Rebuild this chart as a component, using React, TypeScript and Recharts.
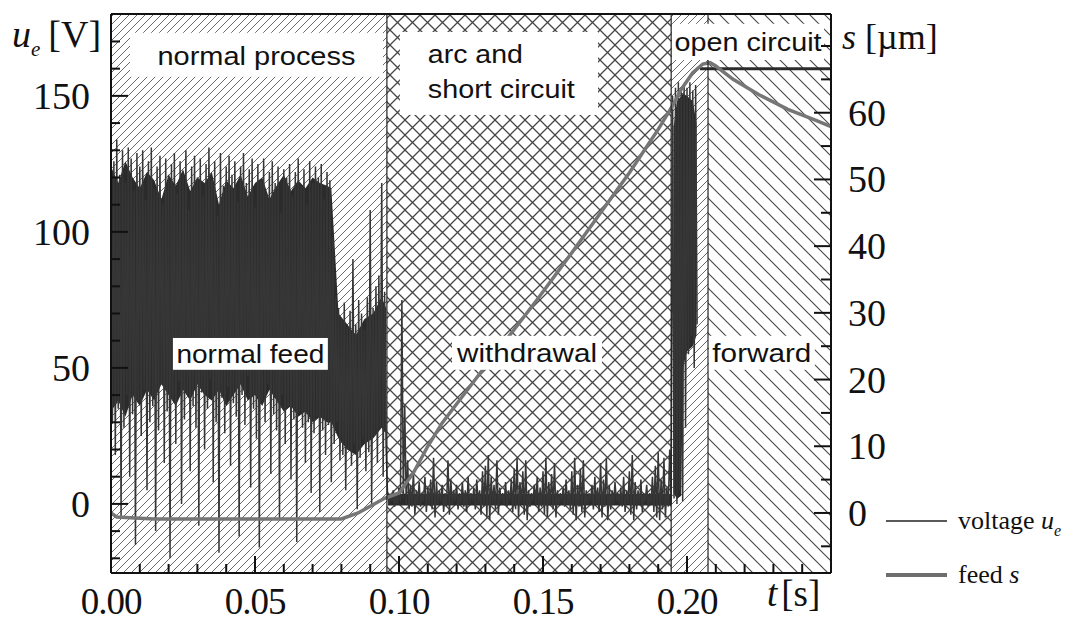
import React from "react";
import { ComposedChart, Area, Line, XAxis, YAxis, ReferenceArea, ReferenceLine, Legend } from "recharts";

// voltage u_e [V]: one peak and one valley per millisecond
const sampleStep = 0.001;

const normalStart = 0;
const normalHigh = [
  132, 126, 134, 121, 130, 118, 131, 127, 115, 129,
  124, 130, 112, 126, 131, 116, 124, 128, 110, 127,
  121, 125, 129, 114, 126, 122, 130, 108, 124, 128,
  120, 127, 113, 125, 131, 119, 126, 106, 129, 117,
  124, 128, 121, 126, 111, 124, 129, 118, 123, 127,
  109, 125, 119, 127, 114, 122, 126, 118, 124, 107,
  123, 120, 125, 113, 122, 127, 117, 123, 110, 126,
  118, 124, 120, 125, 112, 122, 119, 98, 76, 72,
  68, 74, 65, 71, 90, 66, 75, 70, 64, 76,
  108, 72, 80, 84, 118, 78,
];
const normalLow = [
  30, 18, 35, -5, 28, 40, 10, 33, -15, 38,
  25, 42, 5, 30, 36, -10, 27, 44, 15, 34,
  -20, 38, 22, 45, 0, 31, 40, 12, 36, 28,
  -8, 41, 20, 35, 46, 8, 30, -18, 39, 26,
  43, 14, 37, 32, -12, 40, 29, 47, 6, 35,
  24, -16, 38, 30, 44, 11, 33, 27, -6, 40,
  22, 36, 9, 31, -14, 34, 28, 15, 30, 4,
  26, 32, -3, 27, 18, 29, 8, 22, 30, 16,
  18, 5, 20, 14, 22, -2, 17, 24, 12, 19,
  0, 25, 15, 28, 10, 22,
];

const arcStart = 0.096;
const arcHigh = [
  4, 3, 5, 4, 6, 75, 36, 16, 7, 12,
  5, 8, 4, 10, 6, 9, 17, 8, 5, 7,
  4, 16, 9, 5, 7, 4, 8, 5, 10, 4,
  6, 9, 5, 12, 14, 18, 10, 7, 16, 6,
  4, 8, 5, 9, 13, 17, 8, 12, 16, 5,
  4, 7, 10, 6, 12, 17, 8, 11, 15, 5,
  4, 6, 9, 5, 12, 17, 7, 13, 16, 5,
  4, 7, 10, 6, 15, 9, 17, 7, 5, 8,
  4, 6, 10, 5, 12, 18, 8, 5, 9, 4,
  7, 4, 10, 14, 19, 9, 17, 6, 20,
];
const arcLow = [
  0, 1, -1, 0, 1, 2, 0, -2, -1, -4,
  0, -1, 1, -3, 0, -2, -5, 0, 1, -3,
  -1, -4, 0, 1, -2, 0, -1, -3, 0, 1,
  -2, 0, -4, -1, -5, -6, 0, -2, -4, 1,
  0, -1, 1, -3, -2, -5, 0, -4, -6, -1,
  1, 0, -3, -1, -4, -5, 0, -2, -5, 0,
  1, -1, 0, -2, -4, -6, -1, -3, -5, 0,
  1, -2, 0, -3, -5, -1, -6, -2, 0, 1,
  0, -1, -3, 0, -4, -6, -2, 0, -3, 1,
  -1, 0, -3, -5, -6, -2, -5, -1, 0,
];

const burstStart = 0.195;
const burstHigh = [150, 153, 155, 152, 154, 153, 155, 152, 154];
const burstLow = [2, 0, 5, 1, 28, 55, 62, 50, 66];

const openTime = [0.2045, 0.25];
const openVolt = [160, 160];

// solid (dense) part of the voltage trace
const coreTime = [
  0, 0.0025, 0.005, 0.0075, 0.01, 0.0125, 0.015, 0.0175, 0.02, 0.0225, 0.025, 0.0275,
  0.03, 0.0325, 0.035, 0.0375, 0.04, 0.0425, 0.045, 0.0475, 0.05, 0.0525, 0.055, 0.0575,
  0.06, 0.0625, 0.065, 0.0675, 0.07, 0.0725, 0.075,
  0.0765, 0.079, 0.082, 0.085, 0.088, 0.091, 0.094, 0.0955,
];
const coreTop = [
  124, 118, 126, 120, 116, 122, 119, 112, 121, 117, 123, 115,
  120, 118, 122, 110, 119, 116, 121, 113, 118, 120, 112, 117,
  121, 115, 119, 116, 120, 118, 117,
  116, 70, 66, 62, 68, 70, 76, 72,
];
const coreBottom = [
  34, 38, 32, 40, 36, 42, 38, 44, 40, 36, 42, 38,
  44, 40, 38, 42, 36, 40, 44, 38, 40, 36, 42, 38,
  34, 36, 32, 34, 30, 32, 30,
  30, 24, 20, 18, 22, 24, 28, 26,
];

const arcCoreTime = [0.0962, 0.1945];
const arcCoreTop = [3.6, 3.6];
const arcCoreBottom = [-0.6, -0.6];

const burstCoreTime = [0.1953, 0.1965, 0.198, 0.1986, 0.2, 0.202, 0.2033];
const burstCoreTop = [138, 148, 150, 151, 150, 148, 140];
const burstCoreBottom = [4, 2, 3, 50, 56, 58, 62];

// feed s [µm]
const feedTime = [
  0, 0.002, 0.015, 0.08, 0.0858, 0.095, 0.1, 0.105, 0.11, 0.115, 0.121, 0.13, 0.14, 0.148,
  0.16, 0.17, 0.18, 0.19, 0.1948, 0.198, 0.202, 0.2055, 0.208, 0.21, 0.216, 0.225, 0.235, 0.245, 0.25,
];
const feedValue = [
  0, -0.6, -0.9, -0.9, 0, 2.2, 3, 6, 10, 13.5, 16.9, 22, 27.5, 32,
  39, 45, 51, 57.5, 60.9, 63.5, 66, 67.3, 67.5, 67, 65, 62.7, 60.5, 58.8, 57.9,
];

// phase boundaries [s]
const phaseBounds = [0, 0.0958, 0.1945, 0.2073, 0.25];

const timeTicks = [
  0, 0.01, 0.02, 0.03, 0.04, 0.05, 0.06, 0.07, 0.08, 0.09, 0.1, 0.11, 0.12,
  0.13, 0.14, 0.15, 0.16, 0.17, 0.18, 0.19, 0.2, 0.21, 0.22, 0.23, 0.24,
];
const timeLabels = [0, 0.05, 0.1, 0.15, 0.2];
const voltTicks = [-20, -10, 0, 10, 20, 30, 40, 50, 60, 70, 80, 90, 100, 110, 120, 130, 140, 150, 160, 170];
const voltLabels = [0, 50, 100, 150];
const feedTicks = [-5, 0, 5, 10, 15, 20, 25, 30, 35, 40, 45, 50, 55, 60, 65, 70];
const feedLabels = [0, 10, 20, 30, 40, 50, 60];

const zig = (t0: number, hi: number[], lo: number[]) =>
  hi.flatMap((h, i) => [
    { t: t0 + i * sampleStep, u: h },
    { t: t0 + (i + 0.5) * sampleStep, u: lo[i] },
  ]);

const voltageData = [
  ...zig(normalStart, normalHigh, normalLow),
  ...zig(arcStart, arcHigh, arcLow),
  ...zig(burstStart, burstHigh, burstLow),
];
const openData = openTime.map((t, i) => ({ t, u: openVolt[i] }));
const band = (time: number[], lo: number[], hi: number[]) => time.map((t, i) => ({ t, range: [lo[i], hi[i]] }));
const coreData = band(coreTime, coreBottom, coreTop);
const arcCoreData = band(arcCoreTime, arcCoreBottom, arcCoreTop);
const burstCoreData = band(burstCoreTime, burstCoreBottom, burstCoreTop);
const feedData = feedTime.map((t, i) => ({ t, s: feedValue[i] }));

const serif = "'Liberation Serif', 'Times New Roman', serif";
const sans = "'Liberation Sans', Arial, sans-serif";
const ink = "#111";
const trace = "#2b2b2b";

const phaseFills = ["url(#hatchFine)", "url(#hatchCross)", "url(#hatchFine)", "url(#hatchBack)"];

type Tag = {
  lines: string[];
  t: [number, number];
  u: [number, number];
  widths: number[];
  baselines: number[];
  inset?: number;
};

const tags: Tag[] = [
  { lines: ["normal process"], t: [0.0066, 0.0944], u: [157, 173.2], widths: [198], baselines: [32] },
  { lines: ["arc and", "short circuit"], t: [0.1003, 0.1691], u: [143, 173.5], widths: [95, 147], baselines: [31, 66], inset: 28 },
  { lines: ["open circuit"], t: [0.1948, 0.2476], u: [163.2, 176.5], widths: [147], baselines: [27] },
  { lines: ["normal feed"], t: [0.0215, 0.0753], u: [49.3, 61], widths: [148], baselines: [25] },
  { lines: ["withdrawal"], t: [0.1184, 0.1705], u: [49.3, 61.8], widths: [140], baselines: [26] },
  { lines: ["forward"], t: [0.2076, 0.2444], u: [49.3, 61.8], widths: [99], baselines: [26] },
];

const tagShape = (tag: Tag) => (props: any) => {
  const { x, y, width, height } = props;
  const left = tag.inset != null;
  return (
    <g>
      <rect x={x} y={y} width={width} height={height} fill="#fff" />
      {tag.lines.map((line, i) => (
        <text
          key={i}
          x={left ? x + (tag.inset as number) : x + width / 2}
          y={y + tag.baselines[i]}
          textAnchor={left ? "start" : "middle"}
          textLength={tag.widths[i]}
          lengthAdjust="spacingAndGlyphs"
          fontFamily={sans}
          fontSize={26}
          fill={ink}
        >
          {line}
        </text>
      ))}
    </g>
  );
};

function BottomTick({ x, y, payload }: any) {
  const major = timeLabels.includes(payload.value);
  return (
    <g>
      <line x1={x} x2={x} y1={y} y2={y - (major ? 17 : 9)} stroke={ink} strokeWidth={2} />
      {major && (
        <text x={x} y={y + 41} textAnchor="middle" fontFamily={serif} fontSize={37} letterSpacing={-1} fill={ink}>
          {payload.value.toFixed(2)}
        </text>
      )}
    </g>
  );
}

function TopTick({ x, y, payload }: any) {
  const major = timeLabels.includes(payload.value);
  return <line x1={x} x2={x} y1={y} y2={y + (major ? 13 : 8)} stroke={ink} strokeWidth={2} />;
}

function LeftTick({ x, y, payload }: any) {
  const major = voltLabels.includes(payload.value);
  return (
    <g>
      <line x1={x} x2={x + (major ? 17 : 9)} y1={y} y2={y} stroke={ink} strokeWidth={2} />
      {major && (
        <text x={x - 21} y={y + 13} textAnchor="end" fontFamily={serif} fontSize={38} fill={ink}>
          {payload.value}
        </text>
      )}
    </g>
  );
}

function RightTick({ x, y, payload }: any) {
  const major = feedLabels.includes(payload.value);
  return (
    <g>
      <line x1={x} x2={x - (major ? 17 : 10)} y1={y} y2={y} stroke={ink} strokeWidth={2} />
      {major && (
        <text x={x + 17} y={y + 13} textAnchor="start" fontFamily={serif} fontSize={38} fill={ink}>
          {payload.value}
        </text>
      )}
    </g>
  );
}

const uTitle = () => (
  <text x={12} y={47} fontFamily={serif} fontSize={38} fill={ink}>
    <tspan fontStyle="italic">u</tspan>
    <tspan fontStyle="italic" fontSize={21} dy={9}>e</tspan>
    <tspan dy={-9} dx={8}>[V]</tspan>
  </text>
);

const sTitle = () => (
  <text x={842} y={49} fontFamily={serif} fontSize={36} fill={ink}>
    <tspan fontStyle="italic">s</tspan>
    <tspan dx={9}>[µm]</tspan>
  </text>
);

const tTitle = () => (
  <text x={767} y={606} fontFamily={serif} fontSize={37} fill={ink}>
    <tspan fontStyle="italic">t</tspan>
    <tspan dx={4}>[s]</tspan>
  </text>
);

function LegendBox() {
  return (
    <svg width={187} height={100}>
      <line x1={6} x2={67} y1={21} y2={21} stroke="#222" strokeWidth={1.5} />
      <text x={78} y={29} fontFamily={serif} fontSize={26} fill={ink}>
        voltage <tspan fontStyle="italic">u</tspan>
        <tspan fontStyle="italic" fontSize={16} dy={7}>e</tspan>
      </text>
      <line x1={6} x2={67} y1={75} y2={75} stroke="#6e6e6e" strokeWidth={4} />
      <text x={78} y={83} fontFamily={serif} fontSize={26} fill={ink}>
        feed <tspan fontStyle="italic">s</tspan>
      </text>
    </svg>
  );
}

const coreArea = (data: { t: number; range: number[] }[], key: string) => (
  <Area
    key={key}
    xAxisId="t"
    yAxisId="u"
    data={data}
    dataKey="range"
    stroke="none"
    fill={trace}
    fillOpacity={1}
    type="linear"
    dot={false}
    activeDot={false}
    isAnimationActive={false}
  />
);

export default function App() {
  return (
    <div style={{ position: "absolute", left: 0, top: 0, background: "#fff" }}>
      <ComposedChart width={1067} height={623} margin={{ top: 10, right: 136, bottom: 0, left: 0 }}>
        <defs>
          <pattern id="hatchFine" width="8" height="8" patternUnits="userSpaceOnUse">
            <path d="M-2,2 l4,-4 M0,8 l8,-8 M6,10 l4,-4" stroke="#6a6a6a" strokeWidth="1" />
          </pattern>
          <pattern id="hatchCross" width="15" height="15" patternUnits="userSpaceOnUse">
            <path d="M0,0 L15,15 M15,0 L0,15" stroke="#464646" strokeWidth="1.3" />
          </pattern>
          <pattern id="hatchBack" width="15" height="15" patternUnits="userSpaceOnUse">
            <path d="M-3,12 l6,6 M0,0 l15,15 M12,-3 l6,6" stroke="#464646" strokeWidth="1.1" />
          </pattern>
        </defs>

        <XAxis
          xAxisId="t"
          dataKey="t"
          type="number"
          domain={[0, 0.25]}
          allowDataOverflow
          ticks={timeTicks}
          interval={0}
          height={50}
          tickSize={0}
          tickMargin={0}
          tick={<BottomTick />}
          axisLine={{ stroke: ink, strokeWidth: 2 }}
          tickLine={false}
          label={{ content: tTitle }}
        />
        <XAxis
          xAxisId="top"
          orientation="top"
          type="number"
          domain={[0, 0.25]}
          allowDataOverflow
          ticks={timeTicks}
          interval={0}
          height={4}
          tickSize={0}
          tickMargin={0}
          tick={<TopTick />}
          axisLine={{ stroke: ink, strokeWidth: 2 }}
          tickLine={false}
        />
        <YAxis
          yAxisId="u"
          type="number"
          domain={[-25.4, 180.1]}
          allowDataOverflow
          ticks={voltTicks}
          interval={0}
          width={111}
          tickSize={0}
          tickMargin={0}
          tick={<LeftTick />}
          axisLine={{ stroke: ink, strokeWidth: 2 }}
          tickLine={false}
          label={{ content: uTitle }}
        />
        <YAxis
          yAxisId="s"
          orientation="right"
          type="number"
          domain={[-9, 74.8]}
          allowDataOverflow
          ticks={feedTicks}
          interval={0}
          width={100}
          tickSize={0}
          tickMargin={0}
          tick={<RightTick />}
          axisLine={{ stroke: ink, strokeWidth: 2 }}
          tickLine={false}
          label={{ content: sTitle }}
        />

        {phaseFills.map((fill, i) => (
          <ReferenceArea
            key={"phase" + i}
            xAxisId="t"
            yAxisId="u"
            x1={phaseBounds[i]}
            x2={phaseBounds[i + 1]}
            fill={fill}
            fillOpacity={1}
            stroke="none"
            zIndex={-50}
          />
        ))}

        {coreArea(coreData, "core")}
        {coreArea(arcCoreData, "arcCore")}
        {coreArea(burstCoreData, "burstCore")}

        <Line
          xAxisId="t"
          yAxisId="u"
          data={voltageData}
          dataKey="u"
          name="voltage"
          stroke="#363636"
          strokeWidth={1.5}
          dot={false}
          activeDot={false}
          type="linear"
          isAnimationActive={false}
        />
        <Line
          xAxisId="t"
          yAxisId="u"
          data={openData}
          dataKey="u"
          name="voltage open circuit"
          stroke={trace}
          strokeWidth={3}
          dot={false}
          activeDot={false}
          type="linear"
          isAnimationActive={false}
        />
        <Line
          xAxisId="t"
          yAxisId="s"
          data={feedData}
          dataKey="s"
          name="feed"
          stroke="#767676"
          strokeWidth={3.5}
          dot={false}
          activeDot={false}
          type="linear"
          isAnimationActive={false}
        />

        {phaseBounds.slice(1, -1).map((b) => (
          <ReferenceLine key={"sep" + b} xAxisId="t" yAxisId="u" x={b} stroke="#222" strokeWidth={1.2} zIndex={900} />
        ))}

        {tags.map((tag, i) => (
          <ReferenceArea
            key={"tag" + i}
            xAxisId="t"
            yAxisId="u"
            x1={tag.t[0]}
            x2={tag.t[1]}
            y1={tag.u[0]}
            y2={tag.u[1]}
            fillOpacity={1}
            shape={tagShape(tag)}
            zIndex={1000}
          />
        ))}

        <Legend
          verticalAlign="middle"
          align="center"
          content={() => <LegendBox />}
          wrapperStyle={{ left: 880, top: 500, width: 187, height: 100 }}
        />
      </ComposedChart>
    </div>
  );
}
